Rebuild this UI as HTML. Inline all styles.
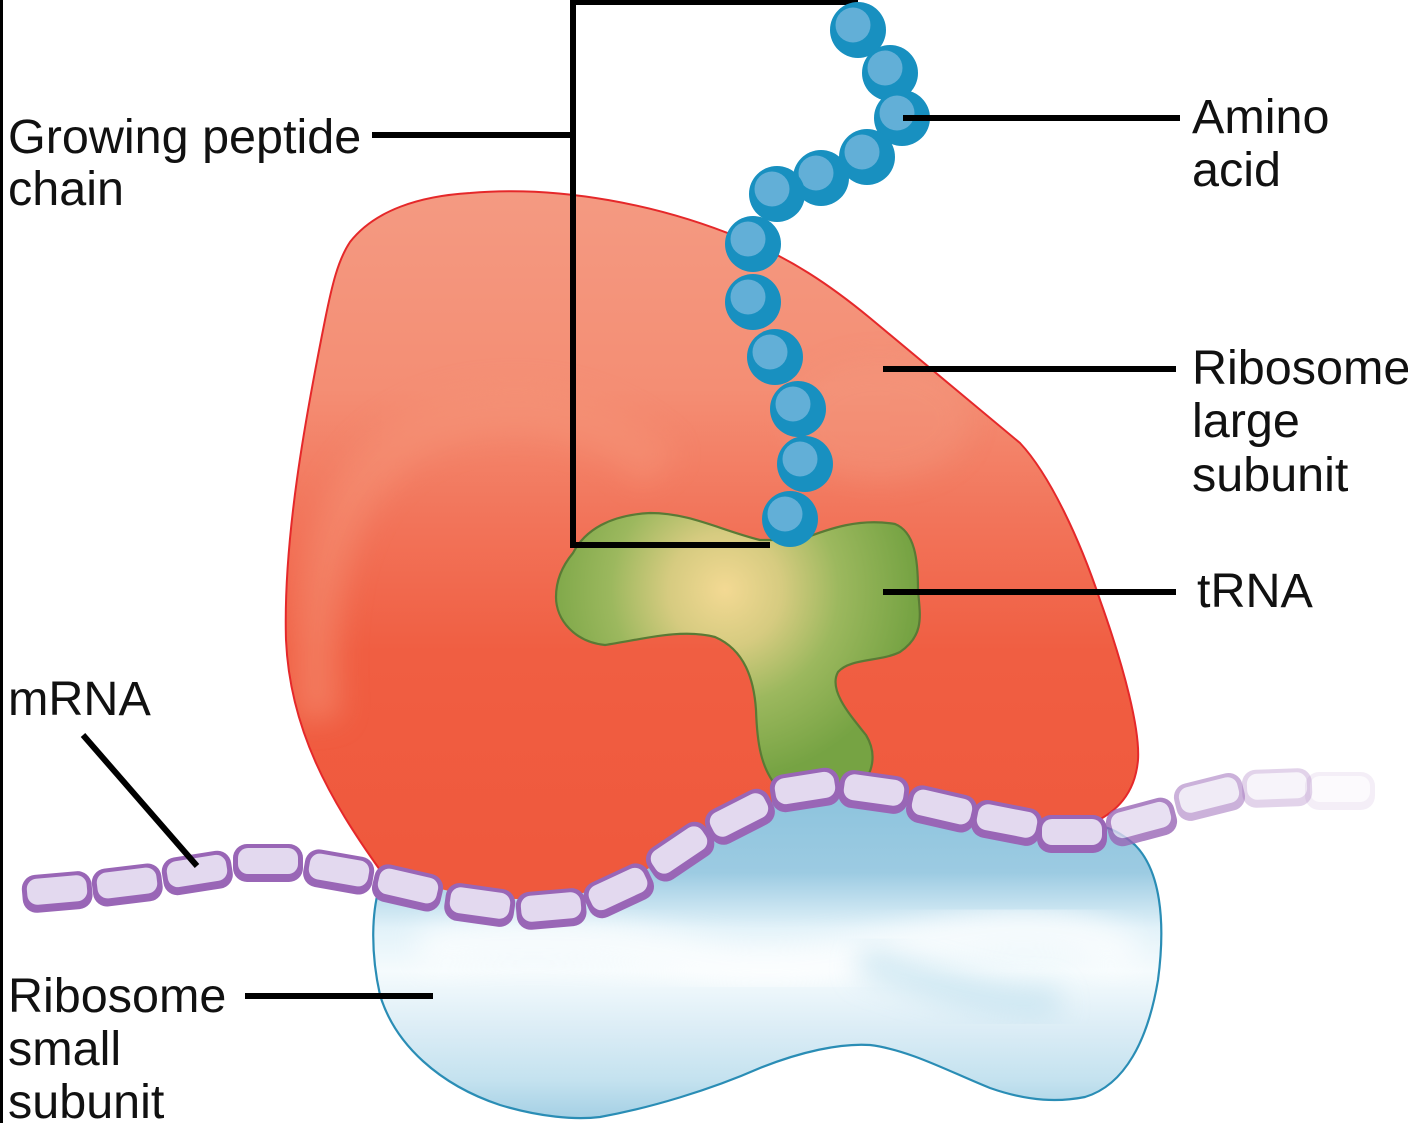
<!DOCTYPE html>
<html>
<head>
<meta charset="utf-8">
<style>
  html,body{margin:0;padding:0;background:#fff;}
  body{width:1408px;height:1123px;overflow:hidden;}
  svg{display:block;}
  text{font-family:"Liberation Sans", Arial, sans-serif;font-size:48.5px;fill:#111;}
</style>
</head>
<body>
<svg width="1408" height="1123" viewBox="0 0 1408 1123" xmlns="http://www.w3.org/2000/svg">
  <defs>
    <linearGradient id="redG" x1="0" y1="190" x2="0" y2="850" gradientUnits="userSpaceOnUse">
      <stop offset="0" stop-color="#f49a82"/>
      <stop offset="0.3" stop-color="#f48e74"/>
      <stop offset="0.5" stop-color="#f2745a"/>
      <stop offset="0.7" stop-color="#f05e42"/>
      <stop offset="1" stop-color="#ef593d"/>
    </linearGradient>
    <linearGradient id="blueG" x1="0" y1="790" x2="0" y2="1120" gradientUnits="userSpaceOnUse">
      <stop offset="0" stop-color="#8cc3dd"/>
      <stop offset="0.25" stop-color="#9ccbe2"/>
      <stop offset="0.42" stop-color="#e2f2f9"/>
      <stop offset="0.55" stop-color="#f5fbfd"/>
      <stop offset="0.72" stop-color="#dcedf6"/>
      <stop offset="0.88" stop-color="#c4e2ef"/>
      <stop offset="1" stop-color="#a3cfe4"/>
    </linearGradient>
    <radialGradient id="greenG" cx="725" cy="590" r="190" gradientUnits="userSpaceOnUse">
      <stop offset="0" stop-color="#f3d993"/>
      <stop offset="0.3" stop-color="#d6cb80"/>
      <stop offset="0.6" stop-color="#9cb85e"/>
      <stop offset="1" stop-color="#76a343"/>
    </radialGradient>
    <filter id="blur12" x="-50%" y="-50%" width="200%" height="200%"><feGaussianBlur stdDeviation="14"/></filter>
    <clipPath id="redClip">
      <path id="redPath" d="M 350,242 C 375,210 420,196 470,193 C 560,185 660,205 740,238 C 790,258 830,285 870,318 L 1020,443 C 1050,475 1080,540 1100,600 C 1125,670 1140,730 1138,760 C 1135,795 1115,812 1095,822 L 1040,838 L 1000,832 L 930,812 L 870,800 L 800,800 L 740,825 L 680,860 L 620,895 L 550,915 L 480,908 L 410,890 L 380,870 C 330,800 290,730 286,640 C 283,540 305,420 325,320 C 332,285 338,260 350,242 Z"/>
    </clipPath>
    <clipPath id="blueClip">
      <path d="M 380,885 C 372,910 370,950 380,995 C 395,1045 440,1085 500,1105 C 540,1117 575,1120 600,1117 C 650,1108 710,1090 760,1068 C 800,1052 840,1043 870,1045 C 910,1050 950,1072 990,1088 C 1030,1102 1060,1102 1085,1097 C 1125,1085 1148,1040 1158,980 C 1166,920 1160,870 1135,845 C 1120,832 1110,828 1100,826 L 1040,835 L 1000,825 L 940,808 L 875,792 L 805,790 L 740,815 L 680,850 L 620,885 L 550,900 L 480,898 L 410,882 Z"/>
    </clipPath>
    <g id="seg">
      <rect x="-35" y="-17" width="70" height="38" rx="14" fill="#9966b6"/>
      <rect x="-30" y="-13" width="60" height="26" rx="10" fill="#e3d9ef"/>
    </g>
    <g id="bead">
      <circle cx="0" cy="0" r="28" fill="#1890c0"/>
      <circle cx="-5" cy="-5" r="17.5" fill="#62afd7"/>
    </g>
  </defs>

  <rect x="0" y="0" width="1408" height="1123" fill="#fff"/>
  <rect x="0" y="0" width="3" height="1123" fill="#000"/>

  <!-- Large subunit -->
  <use href="#redPath" fill="url(#redG)"/>
  <g clip-path="url(#redClip)">
    <path d="M 318,720 C 305,560 345,440 470,415 C 560,400 620,430 660,470" fill="none" stroke="#f59478" stroke-width="46" opacity="0.5" filter="url(#blur12)"/>
    <ellipse cx="880" cy="420" rx="90" ry="60" fill="#f39a80" opacity="0.4" filter="url(#blur12)"/>
  </g>
  <use href="#redPath" fill="none" stroke="#e5282a" stroke-width="2"/>

  <!-- Small subunit -->
  <g clip-path="url(#blueClip)">
    <rect x="360" y="780" width="820" height="350" fill="url(#blueG)"/>
    <path d="M 420,950 C 520,930 620,940 700,960 C 800,985 900,940 1000,930 C 1060,925 1110,940 1130,960" fill="none" stroke="#ffffff" stroke-width="40" opacity="0.7" filter="url(#blur12)"/>
    <path d="M 860,960 C 950,990 1020,1010 1060,1000" fill="none" stroke="#bfe0ee" stroke-width="30" opacity="0.7" filter="url(#blur12)"/>
  </g>
  <path d="M 380,885 C 372,910 370,950 380,995 C 395,1045 440,1085 500,1105 C 540,1117 575,1120 600,1117 C 650,1108 710,1090 760,1068 C 800,1052 840,1043 870,1045 C 910,1050 950,1072 990,1088 C 1030,1102 1060,1102 1085,1097 C 1125,1085 1148,1040 1158,980 C 1166,920 1160,870 1135,845 C 1120,832 1110,828 1100,826" fill="none" stroke="#2a8db5" stroke-width="2.2"/>

  <!-- tRNA -->
  <path d="M 573,553 C 585,530 610,515 650,513 C 690,513 720,530 760,540 L 800,540 C 830,528 860,518 895,524 C 915,532 918,560 918,590 C 920,615 925,635 900,652 C 880,662 850,658 838,672 C 828,690 850,715 866,735 C 878,755 872,775 860,785 L 780,790 C 760,770 757,740 756,710 C 754,680 745,650 715,637 C 680,628 640,640 605,645 C 575,642 556,620 556,597 C 556,580 563,565 573,553 Z" fill="url(#greenG)" stroke="#5a7a35" stroke-width="2.2"/>

  <!-- mRNA -->
  <use href="#seg" transform="translate(57,890) rotate(-5)"/>
  <use href="#seg" transform="translate(127,883) rotate(-7)"/>
  <use href="#seg" transform="translate(197,871) rotate(-9)"/>
  <use href="#seg" transform="translate(268,861) rotate(0)"/>
  <use href="#seg" transform="translate(339,870) rotate(10)"/>
  <use href="#seg" transform="translate(408,886) rotate(13)"/>
  <use href="#seg" transform="translate(480,903) rotate(8)"/>
  <use href="#seg" transform="translate(551,907) rotate(-5)"/>
  <use href="#seg" transform="translate(618,889) rotate(-25)"/>
  <use href="#seg" transform="translate(679,850) rotate(-34)"/>
  <use href="#seg" transform="translate(739,815) rotate(-27)"/>
  <use href="#seg" transform="translate(805,788) rotate(-9)"/>
  <use href="#seg" transform="translate(874,790) rotate(8)"/>
  <use href="#seg" transform="translate(942,807) rotate(13)"/>
  <use href="#seg" transform="translate(1007,821) rotate(11)"/>
  <use href="#seg" transform="translate(1072,832) rotate(0)"/>
  <use href="#seg" transform="translate(1141,820) rotate(-15)" opacity="0.8"/>
  <use href="#seg" transform="translate(1209,795) rotate(-14)" opacity="0.5"/>
  <use href="#seg" transform="translate(1277,786) rotate(-2)" opacity="0.28"/>
  <use href="#seg" transform="translate(1340,789) rotate(0)" opacity="0.1"/>

  <!-- Leader lines -->
  <g stroke="#000" stroke-width="6" fill="none">
    <line x1="372" y1="135" x2="576" y2="135"/>
    <polyline points="858,2 573,2 573,545 770,545"/>
    <line x1="883" y1="369" x2="1176" y2="369"/>
    <line x1="883" y1="592" x2="1176" y2="592"/>
    <line x1="83" y1="735" x2="197" y2="866"/>
    <line x1="245" y1="996" x2="433" y2="996"/>
  </g>

  <!-- Peptide chain beads -->
  <use href="#bead" transform="translate(858,30)"/>
  <use href="#bead" transform="translate(890,73)"/>
  <use href="#bead" transform="translate(902,118)"/>
  <use href="#bead" transform="translate(867,157)"/>
  <use href="#bead" transform="translate(821,178)"/>
  <use href="#bead" transform="translate(777,194)"/>
  <use href="#bead" transform="translate(753,244)"/>
  <use href="#bead" transform="translate(753,302)"/>
  <use href="#bead" transform="translate(775,357)"/>
  <use href="#bead" transform="translate(798,409)"/>
  <use href="#bead" transform="translate(805,464)"/>
  <use href="#bead" transform="translate(790,519)"/>

  <line x1="903" y1="118" x2="1180" y2="118" stroke="#000" stroke-width="6"/>

  <!-- Labels -->
  <text x="8" y="153">Growing peptide</text>
  <text x="8" y="205">chain</text>
  <text x="1192" y="133">Amino</text>
  <text x="1192" y="186">acid</text>
  <text x="1192" y="384">Ribosome</text>
  <text x="1192" y="437">large</text>
  <text x="1192" y="491">subunit</text>
  <text x="1197" y="607">tRNA</text>
  <text x="8" y="715">mRNA</text>
  <text x="8" y="1012">Ribosome</text>
  <text x="8" y="1065">small</text>
  <text x="8" y="1118">subunit</text>
</svg>
</body>
</html>
